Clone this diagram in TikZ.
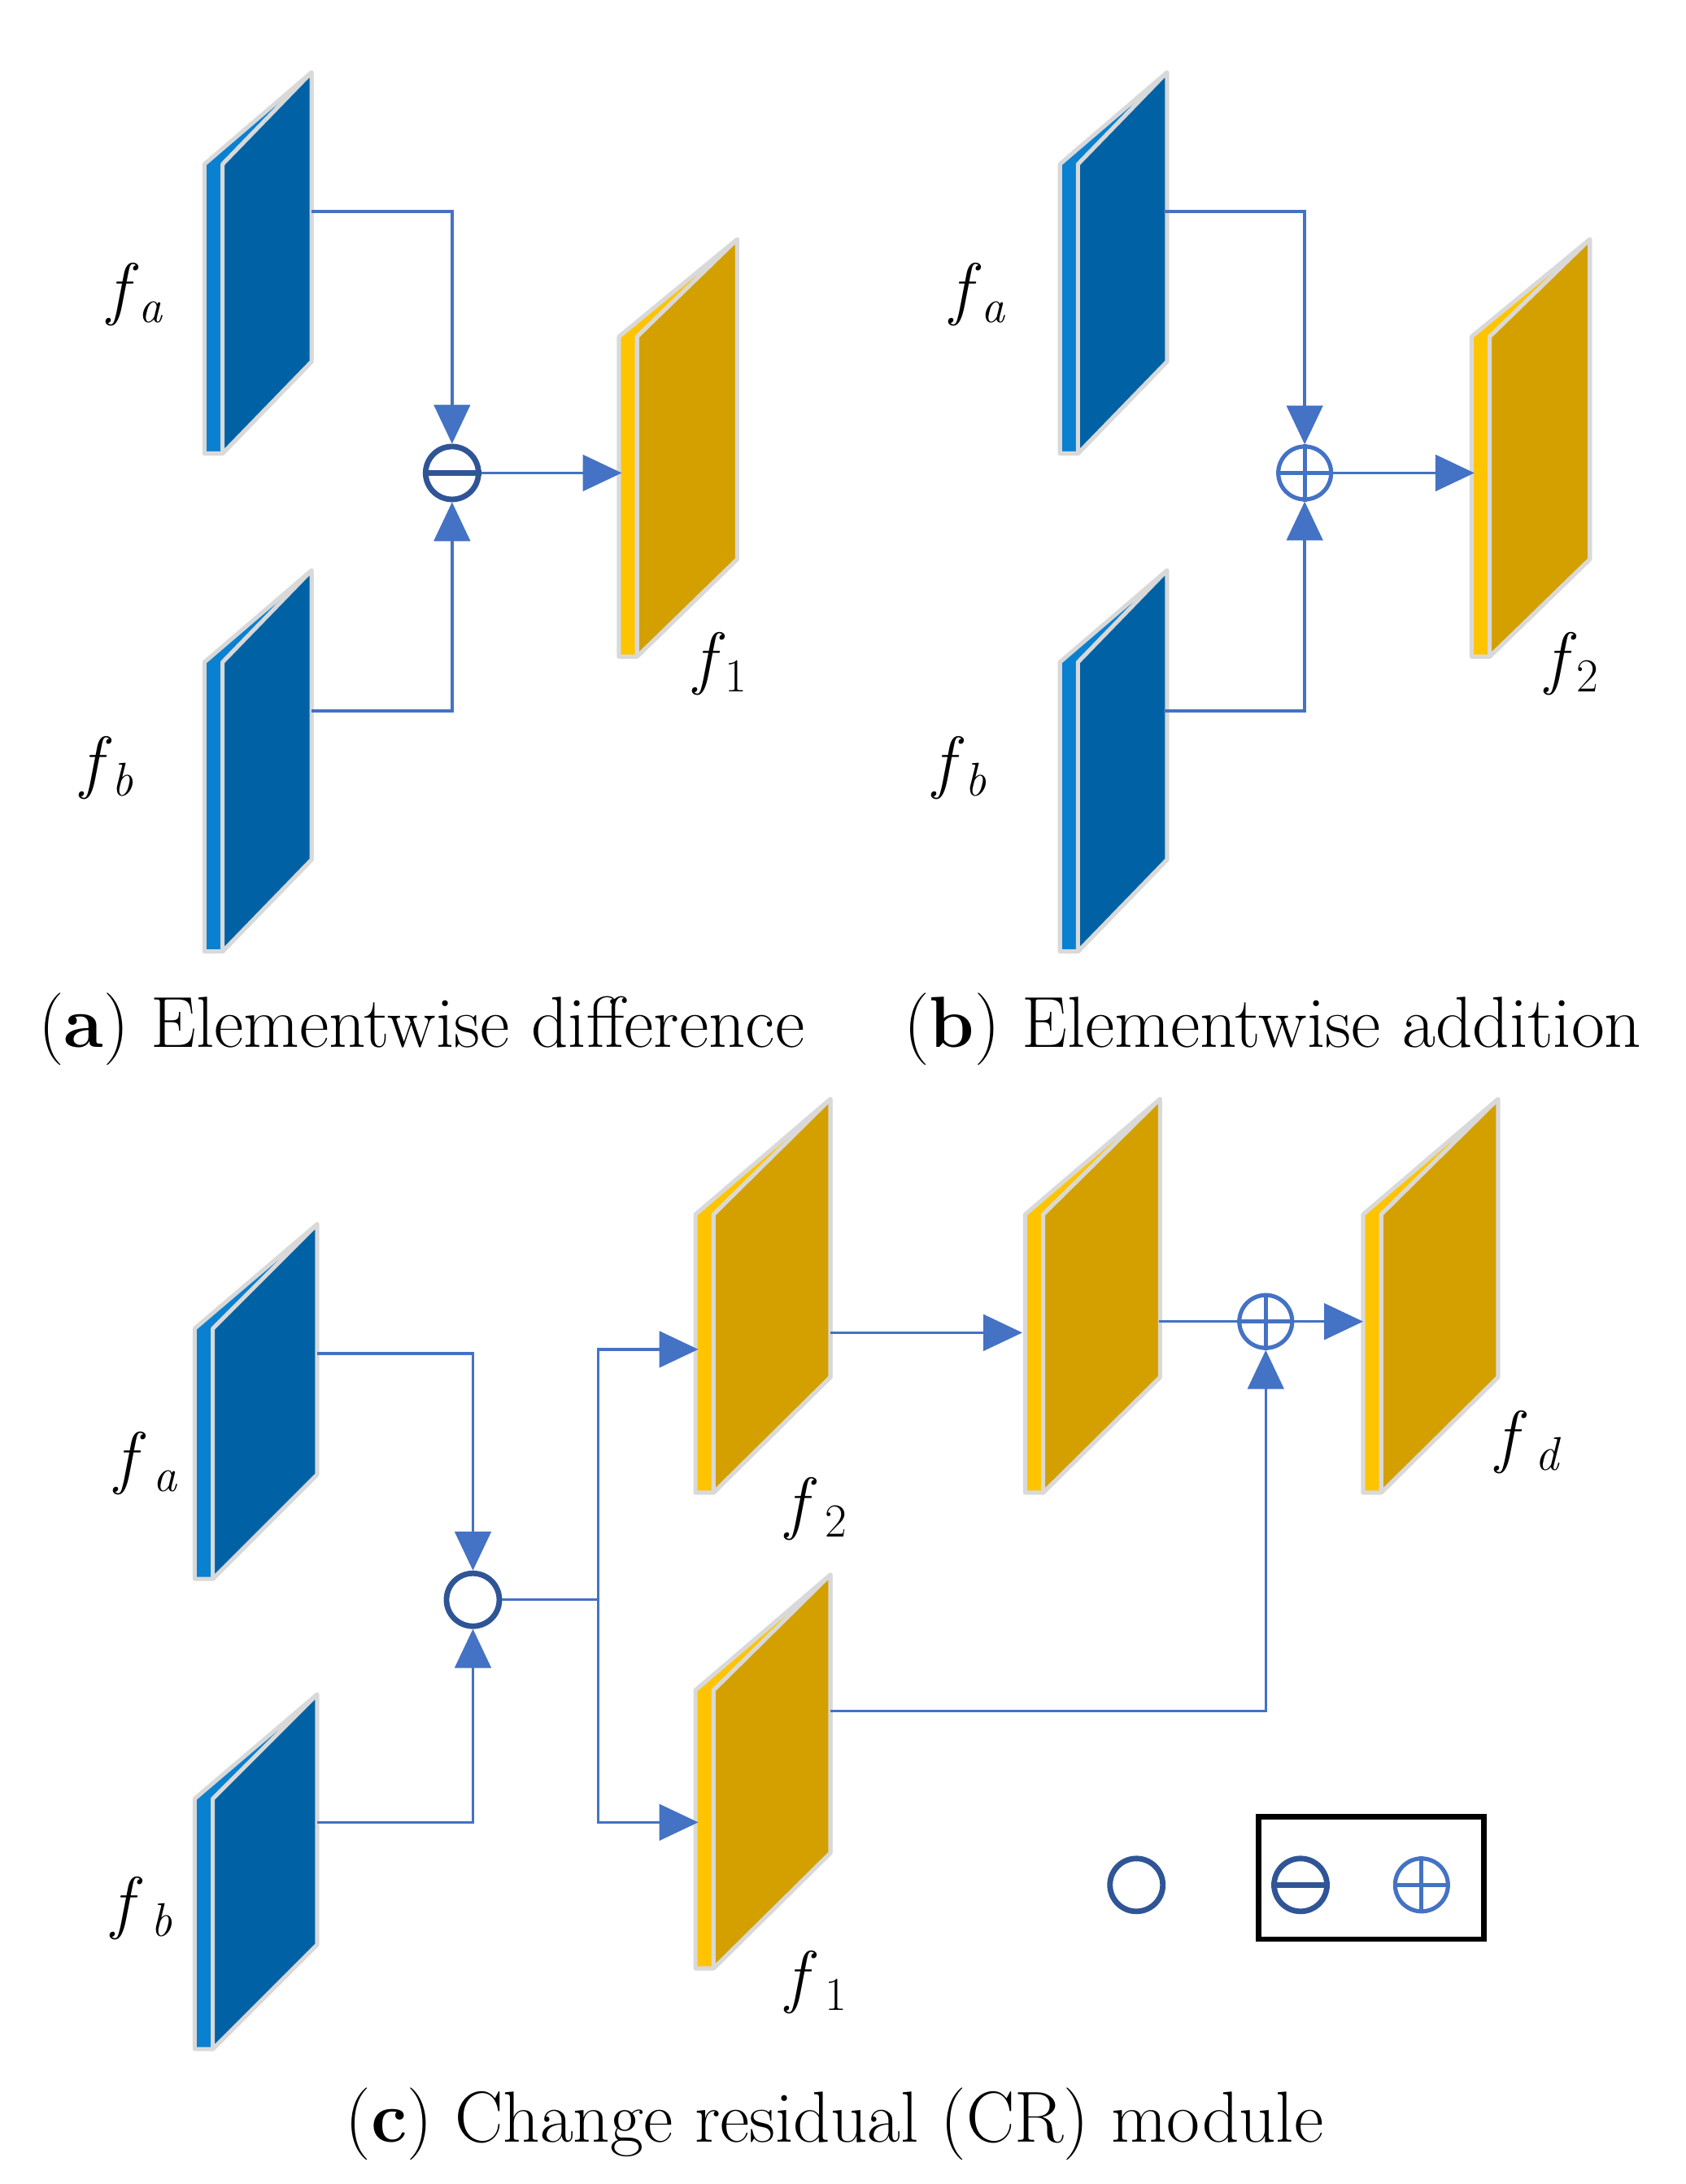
\documentclass[tikz,border=0pt]{standalone}
\usepackage{fontspec}
\usetikzlibrary{arrows.meta}
\definecolor{bdark}{HTML}{0062A5}
\definecolor{blight}{HTML}{0A80D0}
\definecolor{odark}{HTML}{D3A000}
\definecolor{olight}{HTML}{FFC400}
\definecolor{arr}{HTML}{4472C4}
\definecolor{cdark}{HTML}{2F5597}
\definecolor{edge}{HTML}{D9D9D9}
\newcommand\fl[2]{\textit{f}\raisebox{-0.35ex}{\fontsize{34}{34}\selectfont\itshape #1#2}}
\newcommand\fn[2]{\textit{f}\raisebox{-0.35ex}{\fontsize{34}{34}\selectfont\upshape #1#2}}
\tikzset{
  conn/.style={arr,line width=2pt},
  arrow/.style={conn,-{Triangle[length=28pt,width=26pt]}},
  lab/.style={font=\fontsize{50}{54}\selectfont},
  captext/.style={font=\fontsize{52}{58}\selectfont},
  opc/.style={circle,draw,line width=4pt,minimum size=38pt,inner sep=0pt},
}
\newcommand\myslab[8]{%
  \path[fill=#8,draw=edge,line width=3pt,line join=round]
    (#2,#3+#5) -- (#2+#4+13,#3) -- (#2+#4+13,#3+#6) -- (#2+13,#3+#5+#6) -- (#2,#3+#5+#6) -- cycle;
  \path[fill=#7] (#2+13,#3+#5) -- (#2+#4+13,#3) -- (#2+#4+13,#3+#6) -- (#2+13,#3+#5+#6) -- cycle;
  \draw[edge,line width=3pt,line join=round] (#2+13,#3+#5) -- (#2+#4+13,#3) -- (#2+#4+13,#3+#6) -- (#2+13,#3+#5+#6) -- cycle;
  \coordinate (#1) at (#2+13,#3+#5*0.5+#6*0.5);
}
\begin{document}
\begin{tikzpicture}[x=1pt,y=-1pt]
\useasboundingbox (0,0) rectangle (1212,1570);
% (a)
\myslab{aa}{147}{52}{64}{66}{208}{bdark}{blight}
\myslab{ab}{147}{410}{64}{66}{208}{bdark}{blight}
\myslab{a1}{445}{172}{72}{70}{230}{odark}{olight}
\node[opc,cdark] (am) at (325,340) {};
\draw[cdark,line width=4pt] (am.west) -- (am.east);
\coordinate (aa1) at (224,152); \coordinate (ab1) at (224,511);
\draw[arrow] (aa1) -| (am.north);
\draw[arrow] (ab1) -| (am.south);
\coordinate (a1in) at (447,340);
\draw[arrow] (am.east) -- (a1in);
\node[lab] (la) at (97,212) {\fl{}{a}};
\node[lab] (lb) at (77,552) {\fl{}{b}};
\node[lab] (l1) at (518,477) {\fn{}{1}};
\node[captext] (ca) at (303,740) {(\textbf{a}) Elementwise difference};
% (b)
\myslab{ba}{762}{52}{64}{66}{208}{bdark}{blight}
\myslab{bb}{762}{410}{64}{66}{208}{bdark}{blight}
\myslab{b2}{1058}{172}{72}{70}{230}{odark}{olight}
\node[opc,arr,line width=3pt] (bm) at (938,340) {};
\draw[arr,line width=3pt] (bm.west) -- (bm.east) (bm.north) -- (bm.south);
\coordinate (ba1) at (837,152); \coordinate (bb1) at (837,511);
\draw[arrow] (ba1) -| (bm.north);
\draw[arrow] (bb1) -| (bm.south);
\coordinate (b2in) at (1060,340);
\draw[arrow] (bm.east) -- (b2in);
\node[lab] (lba) at (703,212) {\fl{}{a}};
\node[lab] (lbb) at (690,552) {\fl{}{b}};
\node[lab] (l2) at (1130,477) {\fn{}{2}};
\node[captext] (cb) at (915,740) {(\textbf{b}) Elementwise addition};
% (c)
\myslab{ca}{140}{880}{75}{75}{180}{bdark}{blight}
\myslab{cb}{140}{1218}{75}{75}{180}{bdark}{blight}
\myslab{c2}{500}{790}{84}{83}{200}{odark}{olight}
\myslab{c1}{500}{1132}{84}{83}{200}{odark}{olight}
\myslab{c3}{737}{790}{84}{83}{200}{odark}{olight}
\myslab{cd}{980}{790}{84}{83}{200}{odark}{olight}
\node[opc,cdark] (cm) at (340,1150) {};
\node[opc,arr,line width=3pt] (cp) at (910,950) {};
\draw[arr,line width=3pt] (cp.west) -- (cp.east) (cp.north) -- (cp.south);
\coordinate (ca1) at (228,973); \coordinate (cb1) at (228,1310);
\draw[arrow] (ca1) -| (cm.north);
\draw[arrow] (cb1) -| (cm.south);
\coordinate (cj) at (430,1150);
\coordinate (c2in) at (502,970); \coordinate (c1in) at (502,1310);
\draw[conn] (cm.east) -- (cj);
\draw[arrow] (cj) |- (c2in);
\draw[arrow] (cj) |- (c1in);
\coordinate (c2o) at (597,958); \coordinate (c3in) at (735,958);
\draw[arrow] (c2o) -- (c3in);
\coordinate (c3o) at (833,950);
\draw[conn] (c3o) -- (cp.west);
\coordinate (cdin) at (980,950);
\draw[arrow] (cp.east) -- (cdin);
\coordinate (c1o) at (597,1230);
\draw[arrow] (c1o) -| (cp.south);
\node[lab] (lca) at (105,1052) {\fl{\,}{a}};
\node[lab] (lcb) at (102,1372) {\fl{\,}{b}};
\node[lab] (lc2) at (587,1085) {\fn{\,}{2}};
\node[lab] (lc1) at (587,1425) {\fn{\,}{1}};
\node[lab] (lcd) at (1098,1037) {\fl{\,}{d}};
\node[captext] (cc) at (600,1527) {(\textbf{c}) Change residual (CR) module};
% legend
\node[opc,cdark] (g1) at (817,1355) {};
\node[draw,line width=4pt,minimum width=162pt,minimum height=88pt] (box) at (986,1350) {};
\node[opc,cdark] (g2) at (935,1355) {};
\draw[cdark,line width=4pt] (g2.west) -- (g2.east);
\node[opc,arr,line width=3pt] (g3) at (1022,1355) {};
\draw[arr,line width=3pt] (g3.west) -- (g3.east) (g3.north) -- (g3.south);
\end{tikzpicture}
\end{document}
